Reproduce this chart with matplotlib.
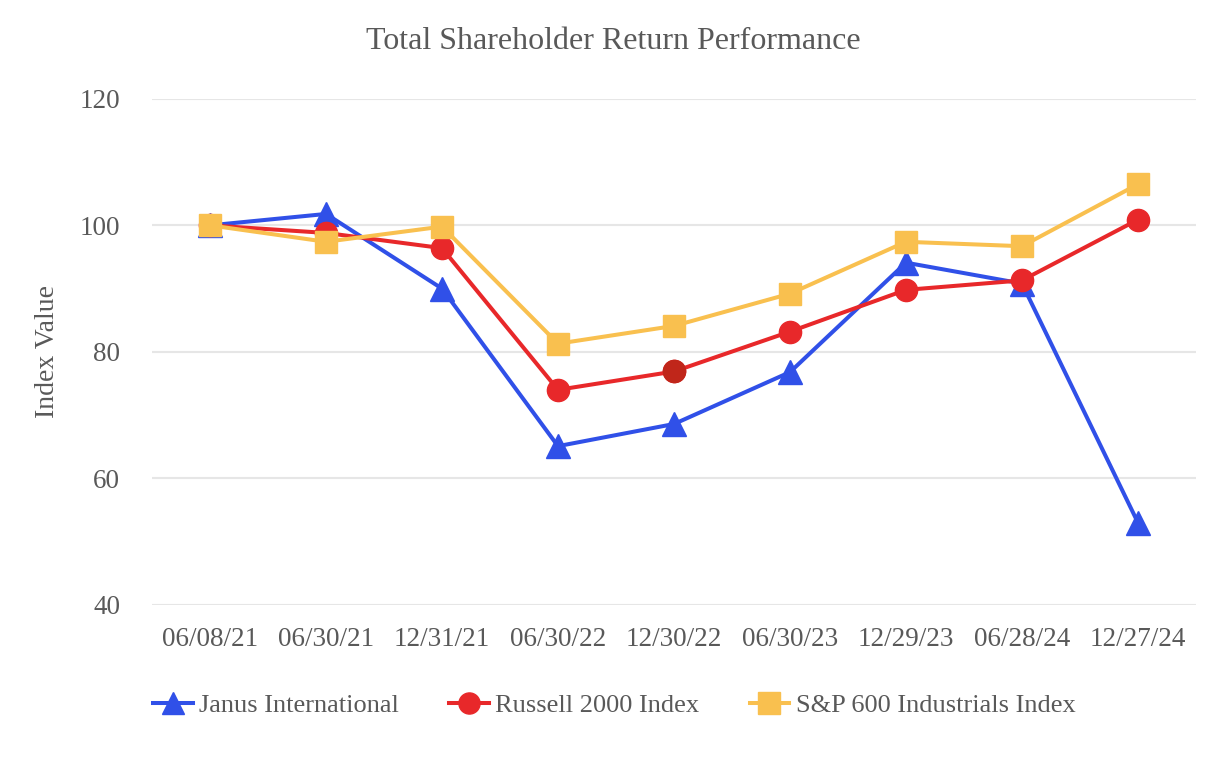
import matplotlib
matplotlib.use("Agg")
import matplotlib.pyplot as plt

dates = ["06/08/21", "06/30/21", "12/31/21", "06/30/22", "12/30/22", "06/30/23", "12/29/23", "06/28/24", "12/27/24"]
janus = [100.0, 101.8, 90.0, 65.1, 68.6, 76.8, 94.1, 90.8, 53.0]
russell = [100.0, 98.8, 96.4, 74.0, 76.9, 83.2, 89.8, 91.3, 100.9]
sp600 = [100.0, 97.4, 99.8, 81.3, 84.1, 89.2, 97.4, 96.7, 106.5]
yticks = [40, 60, 80, 100, 120]

plt.rcParams['font.family'] = ['Liberation Serif', 'DejaVu Serif']
grey = '#595959'
blue = '#3050e8'
red = '#e8282a'
yellow = '#f9c04f'

fig = plt.figure(figsize=(12.26, 7.6), dpi=100)
ax = fig.add_axes([0.124, 0.204, 0.8515, 0.666])
x = list(range(len(dates)))

ax.plot(x, janus, color=blue, lw=2.9, marker='^', ms=17, mec=blue, mfc=blue, label='Janus International', zorder=3)
ax.plot(x, russell, color=red, lw=2.9, marker='o', ms=16, mec=red, mfc=red, label='Russell 2000 Index', zorder=4)
ax.plot([x[4]], [russell[4]], linestyle='none', marker='o', ms=16, mec='#c0261a', mfc='#c0261a', zorder=4.5)
ax.plot(x, sp600, color=yellow, lw=2.9, marker='s', ms=16, mec=yellow, mfc=yellow, label='S&P 600 Industrials Index', zorder=5)

ax.set_xlim(-0.5, 8.5)
ax.set_ylim(40, 120)
ax.set_yticks(yticks)
ax.set_xticks(x)
ax.set_xticklabels(dates)
ax.tick_params(axis='both', length=0, labelsize=19.5, colors=grey)
ax.tick_params(axis='x', pad=16)
ax.tick_params(axis='y', pad=23)
ax.grid(axis='y', color='#e6e6e6', lw=1.5)
ax.set_axisbelow(True)
for s in ax.spines.values():
    s.set_visible(False)

ax.set_ylabel('Index Value', fontsize=20, color=grey, labelpad=14)
fig.text(0.5, 0.945, 'Total Shareholder Return Performance', ha='center', va='center', fontsize=23, color=grey)

leg = fig.legend(loc='center', bbox_to_anchor=(0.501, 0.072), ncol=3, frameon=False, fontsize=19,
                 handlelength=1.5, columnspacing=1.9, handletextpad=0.25, markerscale=0.95)
for t in leg.get_texts():
    t.set_color(grey)

fig.savefig('out.png', dpi=100)
